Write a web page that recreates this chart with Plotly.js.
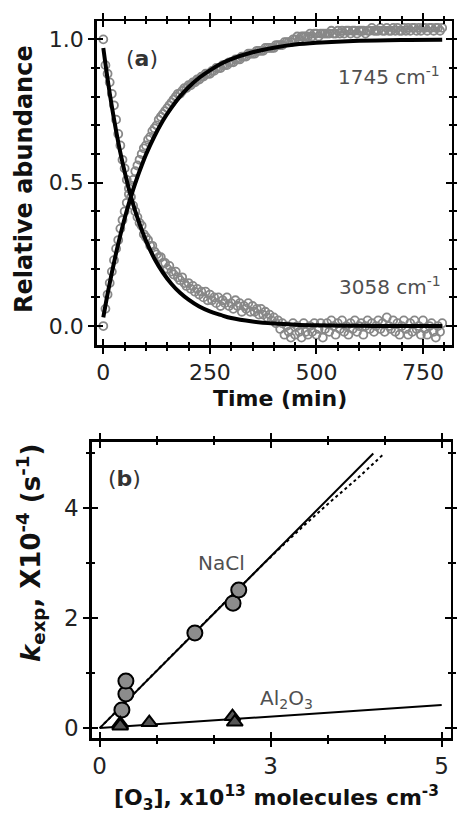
<!DOCTYPE html>
<html>
<head>
<meta charset="utf-8">
<script src="https://cdn.plot.ly/plotly-3.0.1.min.js"></script>
<style>html,body{margin:0;padding:0;background:#fff;}#chart{width:457px;height:816px;}</style>
</head>
<body>
<div id="chart"></div>
<script>
// ---------- Panel (a): kinetics ----------
const timeMin = [0,5,10,15,20,25,30,35,40,45,50,55,60,65,70,75,80,85,90,95,100,105,110,115,120,125,130,135,140,145,150,155,160,165,170,175,180,185,190,195,200,205,210,215,220,225,230,235,240,245,250,255,260,265,270,275,280,285,290,295,300,305,310,315,320,325,330,335,340,345,350,355,360,365,370,375,380,385,390,395,400,405,410,415,420,425,430,435,440,445,450,455,460,465,470,475,480,485,490,495,500,505,510,515,520,525,530,535,540,545,550,555,560,565,570,575,580,585,590,595,600,605,610,615,620,625,630,635,640,645,650,655,660,665,670,675,680,685,690,695,700,705,710,715,720,725,730,735,740,745,750,755,760,765,770,775,780,785,790,795];
const abund3058 = [1.00,0.91,0.88,0.85,0.81,0.77,0.72,0.67,0.63,0.58,0.55,0.51,0.48,0.45,0.42,0.40,0.38,0.36,0.35,0.32,0.31,0.30,0.28,0.28,0.26,0.25,0.24,0.24,0.22,0.22,0.20,0.21,0.19,0.18,0.19,0.17,0.16,0.17,0.15,0.14,0.15,0.13,0.14,0.12,0.13,0.11,0.12,0.10,0.12,0.09,0.11,0.09,0.10,0.08,0.10,0.07,0.09,0.08,0.10,0.07,0.08,0.06,0.09,0.07,0.08,0.05,0.07,0.06,0.08,0.05,0.07,0.05,0.06,0.04,0.06,0.04,0.05,0.03,0.04,0.02,0.03,0.01,0.02,-0.01,0.01,-0.03,0.00,-0.02,-0.04,0.01,-0.03,0.00,-0.02,-0.04,0.01,-0.02,-0.03,0.00,-0.02,0.01,-0.03,-0.01,0.01,-0.04,-0.01,0.01,-0.02,0.02,0.00,-0.03,0.01,-0.01,0.02,-0.02,0.00,-0.03,0.01,-0.01,0.02,-0.02,0.00,0.01,-0.03,0.00,0.02,-0.01,0.01,-0.02,0.00,0.02,-0.01,0.01,-0.02,0.03,0.00,-0.01,0.02,-0.02,0.01,-0.03,0.00,0.02,-0.01,-0.03,0.01,-0.02,0.02,-0.01,0.00,-0.03,0.02,-0.01,-0.03,0.00,0.01,-0.02,-0.04,0.00,-0.02,0.01];
const abund1745 = [0.00,0.06,0.11,0.15,0.19,0.23,0.27,0.30,0.34,0.37,0.40,0.43,0.46,0.49,0.51,0.54,0.56,0.58,0.60,0.62,0.63,0.65,0.66,0.68,0.69,0.70,0.72,0.73,0.74,0.75,0.76,0.77,0.78,0.79,0.80,0.81,0.81,0.82,0.83,0.83,0.84,0.84,0.85,0.85,0.86,0.86,0.87,0.87,0.88,0.88,0.88,0.89,0.89,0.90,0.90,0.90,0.91,0.91,0.91,0.92,0.92,0.92,0.93,0.93,0.93,0.94,0.94,0.94,0.95,0.95,0.95,0.95,0.96,0.96,0.96,0.96,0.97,0.97,0.97,0.97,0.97,0.98,0.98,0.98,0.98,0.99,0.99,0.99,0.99,1.00,1.00,1.01,1.00,1.01,1.01,1.01,1.01,1.02,1.01,1.02,1.02,1.01,1.02,1.02,1.02,1.02,1.02,1.03,1.02,1.02,1.03,1.02,1.03,1.02,1.03,1.03,1.02,1.03,1.03,1.02,1.03,1.03,1.03,1.02,1.03,1.03,1.04,1.03,1.03,1.03,1.04,1.03,1.03,1.04,1.03,1.03,1.04,1.03,1.04,1.03,1.03,1.04,1.03,1.04,1.03,1.04,1.04,1.03,1.04,1.03,1.04,1.04,1.03,1.04,1.04,1.03,1.04,1.04,1.03,1.04];
const fitTime = [0,10,20,30,40,50,60,70,80,90,100,120,140,160,180,200,225,250,275,300,350,400,450,500,600,700,795];
const fitDecay = [0.97,0.862,0.766,0.681,0.605,0.538,0.478,0.425,0.378,0.336,0.298,0.235,0.186,0.147,0.116,0.092,0.068,0.051,0.039,0.028,0.016,0.009,0.005,0.003,0.001,0.000,0.000];
const fitRise = [0.03,0.112,0.186,0.255,0.318,0.375,0.428,0.476,0.520,0.560,0.598,0.662,0.717,0.762,0.801,0.833,0.866,0.892,0.914,0.931,0.955,0.971,0.982,0.988,0.995,0.998,0.999];

// ---------- Panel (b): k_exp vs [O3] ----------
const o3NaCl = [0.39,0.46,0.46,1.67,2.34,2.44];
const kNaCl = [0.33,0.62,0.855,1.73,2.27,2.51];
const o3Al = [0.36,0.36,0.87,2.33,2.37];
const kAl = [0.08,0.04,0.10,0.21,0.11];
const fitNaClX = [0,4.80];
const fitNaClY = [0,4.99];
const fitNaClDotX = [0,2.5,3.0,3.5,4.0,4.5,4.97];
const fitNaClDotY = [0,2.6,3.11,3.6,4.07,4.52,4.97];
const fitAlX = [0,6.0];
const fitAlY = [0,0.42];
const xTickVals = [0,3,6];
const xTickText = ['0','3','5'];

const FONT = 'DejaVu Sans';
const GRAY_TXT = '#505050';

const traces = [
  {x: timeMin, y: abund3058, xaxis:'x', yaxis:'y', mode:'markers', type:'scatter',
   marker:{symbol:'circle-open', size:8, color:'#888', line:{width:1.8, color:'#888'}}, showlegend:false, name:'3058 cm-1'},
  {x: timeMin, y: abund1745, xaxis:'x', yaxis:'y', mode:'markers', type:'scatter',
   marker:{symbol:'circle-open', size:8, color:'#888', line:{width:1.8, color:'#888'}}, showlegend:false, name:'1745 cm-1'},
  {x: fitTime, y: fitDecay, xaxis:'x', yaxis:'y', mode:'lines', type:'scatter', line:{color:'#000', width:4, shape:'spline'}, showlegend:false},
  {x: fitTime, y: fitRise, xaxis:'x', yaxis:'y', mode:'lines', type:'scatter', line:{color:'#000', width:4, shape:'spline'}, showlegend:false},

  {x: fitNaClDotX, y: fitNaClDotY, xaxis:'x2', yaxis:'y2', mode:'lines', type:'scatter', line:{color:'#000', width:2, dash:'dot', shape:'spline'}, showlegend:false},
  {x: fitNaClX, y: fitNaClY, xaxis:'x2', yaxis:'y2', mode:'lines', type:'scatter', line:{color:'#000', width:2}, showlegend:false},
  {x: fitAlX, y: fitAlY, xaxis:'x2', yaxis:'y2', mode:'lines', type:'scatter', line:{color:'#000', width:2}, showlegend:false},
  {x: o3NaCl, y: kNaCl, xaxis:'x2', yaxis:'y2', mode:'markers', type:'scatter',
   marker:{symbol:'circle', size:15, color:'#8c8c8c', line:{width:2, color:'#000'}}, showlegend:false, name:'NaCl'},
  {x: o3Al, y: kAl, xaxis:'x2', yaxis:'y2', mode:'markers', type:'scatter',
   marker:{symbol:'triangle-up', size:14, color:'#555', line:{width:2, color:'#000'}}, showlegend:false, name:'Al2O3'},
  // empty traces that carry the overlay (inside-tick) axes
  {x: [], y: [], xaxis:'x3', yaxis:'y3', type:'scatter', mode:'markers', showlegend:false},
  {x: [], y: [], xaxis:'x4', yaxis:'y4', type:'scatter', mode:'markers', showlegend:false}
];

const domA_x = [96.7/457, 451.7/457];
const domA_y = [1-345/816, 1-21/816];
const domB_x = [91.7/457, 450.5/457];
const domB_y = [1-738/816, 1-441.7/816];
const rangeAx = [-15.5, 817.3], rangeAy = [-0.066, 1.064];
const rangeBx = [-0.14, 6.155], rangeBy = [-0.18, 5.205];

function ax(o){
  return Object.assign({
    showline:true, linecolor:'#000', linewidth:2.5, mirror:'allticks',
    ticks:'outside', ticklen:6, tickwidth:2, tickcolor:'#000',
    showgrid:false, zeroline:false, fixedrange:true,
    tickfont:{family:FONT, size:22, color:'#222'}
  }, o);
}
function ov(o){
  return Object.assign({
    showline:false, mirror:'allticks', ticks:'inside', ticklen:6, tickwidth:2, tickcolor:'#000',
    showgrid:false, zeroline:false, showticklabels:false, fixedrange:true
  }, o);
}

const layout = {
  width:457, height:816, margin:{l:0,r:0,t:0,b:0},
  paper_bgcolor:'#fff', plot_bgcolor:'rgba(0,0,0,0)', showlegend:false,
  xaxis: ax({domain:domA_x, anchor:'y', range:rangeAx, tickmode:'linear', tick0:0, dtick:250,
    minor:{ticks:'outside', ticklen:3, tickwidth:2, tickcolor:'#000', dtick:50, tick0:0, showgrid:false}}),
  yaxis: ax({domain:domA_y, anchor:'x', range:rangeAy, tickmode:'linear', tick0:0, dtick:0.5, tickformat:'.1f',
    minor:{ticks:'outside', ticklen:3, tickwidth:2, tickcolor:'#000', dtick:0.1, tick0:0, showgrid:false}}),
  xaxis3: ov({domain:domA_x, anchor:'y3', overlaying:'x', range:rangeAx, tickmode:'linear', tick0:0, dtick:250,
    minor:{ticks:'inside', ticklen:3, tickwidth:2, tickcolor:'#000', dtick:50, tick0:0, showgrid:false}}),
  yaxis3: ov({domain:domA_y, anchor:'x3', overlaying:'y', range:rangeAy, tickmode:'linear', tick0:0, dtick:0.5,
    minor:{ticks:'inside', ticklen:3, tickwidth:2, tickcolor:'#000', dtick:0.1, tick0:0, showgrid:false}}),

  xaxis2: ax({domain:domB_x, anchor:'y2', range:rangeBx, tickmode:'array', tickvals:xTickVals, ticktext:xTickText,
    tickfont:{family:FONT, size:23, color:'#222'},
    minor:{ticks:'outside', ticklen:3, tickwidth:2, tickcolor:'#000', tickmode:'linear', dtick:1, tick0:0, showgrid:false}}),
  yaxis2: ax({domain:domB_y, anchor:'x2', range:rangeBy, tickmode:'linear', tick0:0, dtick:2,
    tickfont:{family:FONT, size:23, color:'#222'},
    minor:{ticks:'outside', ticklen:3, tickwidth:2, tickcolor:'#000', dtick:1, tick0:0, showgrid:false}}),
  xaxis4: ov({domain:domB_x, anchor:'y4', overlaying:'x2', range:rangeBx, tickmode:'array', tickvals:xTickVals,
    minor:{ticks:'inside', ticklen:3, tickwidth:2, tickcolor:'#000', tickmode:'linear', dtick:1, tick0:0, showgrid:false}}),
  yaxis4: ov({domain:domB_y, anchor:'x4', overlaying:'y2', range:rangeBy, tickmode:'linear', tick0:0, dtick:2,
    minor:{ticks:'inside', ticklen:3, tickwidth:2, tickcolor:'#000', dtick:1, tick0:0, showgrid:false}}),

  annotations: [
    {text:'<b>Relative abundance</b>', xref:'paper', yref:'paper', x:24/457, y:1-179/816, textangle:-90,
     xanchor:'center', yanchor:'middle', showarrow:false, font:{family:FONT, size:24, color:'#111'}},
    {text:'<b>Time (min)</b>', xref:'paper', yref:'paper', x:280/457, y:1-398/816,
     xanchor:'center', yanchor:'middle', showarrow:false, font:{family:FONT, size:22, color:'#111'}},
    {text:'(<b>a</b>)', xref:'paper', yref:'paper', x:142/457, y:1-59/816,
     xanchor:'center', yanchor:'middle', showarrow:false, font:{family:FONT, size:22, color:'#333'}},
    {text:'1745 cm<sup>-1</sup>', xref:'paper', yref:'paper', x:336/457, y:1-76/816,
     xanchor:'left', yanchor:'middle', showarrow:false, font:{family:FONT, size:20, color:GRAY_TXT}},
    {text:'3058 cm<sup>-1</sup>', xref:'paper', yref:'paper', x:337/457, y:1-286/816,
     xanchor:'left', yanchor:'middle', showarrow:false, font:{family:FONT, size:20, color:GRAY_TXT}},

    {text:'(<b>b</b>)', xref:'paper', yref:'paper', x:124/457, y:1-478/816,
     xanchor:'center', yanchor:'middle', showarrow:false, font:{family:FONT, size:22, color:'#333'}},
    {text:'NaCl', xref:'paper', yref:'paper', x:221/457, y:1-563/816,
     xanchor:'center', yanchor:'middle', showarrow:false, font:{family:FONT, size:20, color:GRAY_TXT}},
    {text:'Al<sub>2</sub>O<sub>3</sub>', xref:'paper', yref:'paper', x:286/457, y:1-699/816,
     xanchor:'center', yanchor:'middle', showarrow:false, font:{family:FONT, size:20, color:GRAY_TXT}},
    {text:'<b>[O<sub>3</sub>], x10<sup>13</sup> molecules cm<sup>-3</sup></b>', xref:'paper', yref:'paper', x:276/457, y:1-798/816,
     xanchor:'center', yanchor:'middle', showarrow:false, font:{family:FONT, size:22, color:'#111'}},
    {text:'<b><i>k</i><sub>exp</sub>, X10<sup>-4</sup> (s<sup>-1</sup>)</b>', xref:'paper', yref:'paper', x:30/457, y:1-553/816, textangle:-90,
     xanchor:'center', yanchor:'middle', showarrow:false, font:{family:FONT, size:26, color:'#111'}}
  ]
};

Plotly.newPlot('chart', traces, layout, {staticPlot:true, displayModeBar:false});
</script>
</body>
</html>
